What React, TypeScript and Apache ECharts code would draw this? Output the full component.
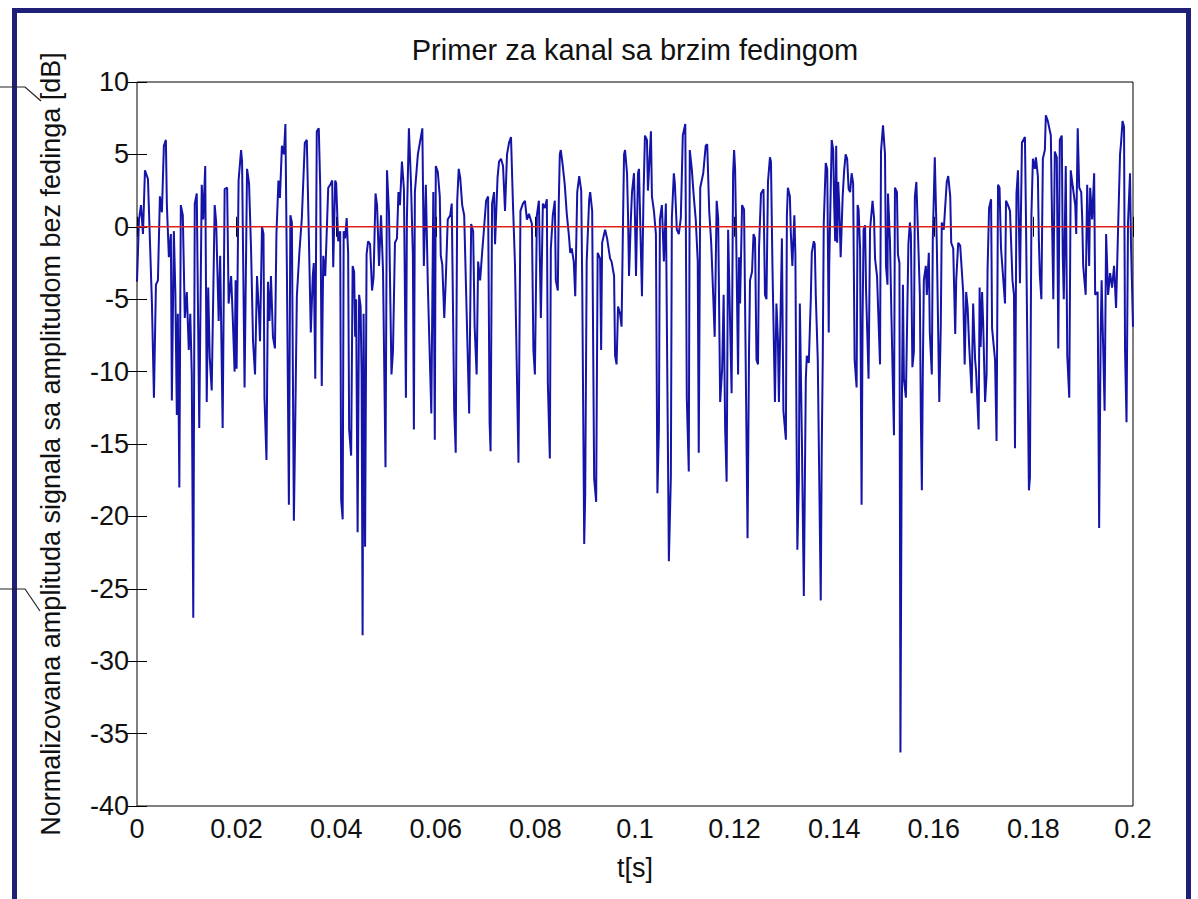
import React, { useEffect, useRef } from "react";
import * as echarts from "echarts";

const TITLE = "Primer za kanal sa brzim fedingom";
const X_NAME = "t[s]";
const Y_NAME = "Normalizovana amplituda signala sa amplitudom bez fedinga [dB]";
const X_MIN = 0;
const X_MAX = 0.2;
const X_STEP = 0.02;
const Y_MIN = -40;
const Y_MAX = 10;
const Y_STEP = 5;
const REF_LEVEL = 0;

// time of each turning point, in milliseconds
const tMs = [
  0.0, 0.4, 0.8, 1.2, 1.6, 2.2, 2.6, 3.0, 3.4, 3.8, 4.2, 4.6, 5.0, 5.4, 5.8, 6.0, 6.4, 6.8, 7.0, 7.4,
  7.7, 8.0, 8.2, 8.5, 8.8, 9.2, 9.6, 10.0, 10.4, 10.7, 11.0, 11.3, 11.6, 12.0, 12.5, 13.0, 13.3, 13.7, 14.0, 14.3,
  14.6, 15.0, 15.6, 15.9, 16.4, 16.7, 17.2, 17.6, 18.1, 18.4, 18.9, 19.2, 19.6, 19.8, 20.0, 20.4, 20.9, 21.1, 21.6, 22.1,
  22.5, 22.9, 23.3, 23.7, 24.1, 24.5, 24.7, 25.1, 25.4, 25.6, 26.0, 26.3, 26.6, 26.9, 27.3, 27.7, 28.0, 28.4, 28.7, 29.1,
  29.5, 29.8, 30.1, 30.5, 30.8, 31.1, 31.5, 31.8, 32.1, 32.6, 33.1, 33.7, 34.1, 34.5, 34.9, 35.3, 35.5, 35.8, 36.1, 36.5,
  36.8, 37.1, 37.4, 37.8, 38.4, 38.8, 39.2, 39.4, 39.8, 40.0, 40.4, 40.8, 41.0, 41.3, 41.5, 41.8, 42.1, 42.4, 42.6, 43.0,
  43.3, 43.6, 43.8, 44.0, 44.3, 44.6, 44.9, 45.1, 45.3, 45.5, 45.8, 46.1, 46.4, 46.8, 47.2, 47.5, 47.9, 48.2, 48.6, 49.0,
  49.4, 49.9, 50.2, 50.6, 51.1, 51.4, 51.8, 52.2, 52.5, 52.8, 53.2, 53.6, 54.0, 54.2, 54.6, 55.0, 55.4, 55.6, 55.8, 56.4,
  57.3, 57.6, 58.0, 58.4, 59.1, 59.5, 59.8, 60.0, 60.4, 60.8, 61.0, 61.3, 61.7, 62.0, 62.4, 62.9, 63.2, 63.7, 64.0, 64.3,
  64.6, 64.9, 65.3, 65.7, 66.2, 66.7, 67.1, 67.5, 67.8, 68.2, 68.5, 68.9, 69.3, 69.6, 70.1, 70.5, 70.8, 71.0, 71.3, 71.7,
  71.9, 72.4, 72.7, 73.1, 73.5, 73.9, 74.3, 74.7, 75.1, 75.5, 75.9, 76.6, 77.0, 77.5, 77.9, 78.3, 78.7, 79.3, 79.6, 79.9,
  80.3, 80.7, 81.1, 81.5, 81.9, 82.3, 82.5, 82.9, 83.1, 83.5, 83.9, 84.1, 84.5, 84.7, 84.9, 85.1, 85.5, 85.9, 86.3, 86.7,
  87.0, 87.3, 87.7, 88.0, 88.4, 88.8, 89.2, 89.4, 89.8, 90.0, 90.3, 90.8, 91.0, 91.4, 91.8, 92.2, 92.5, 93.0, 93.2, 93.4,
  94.0, 94.4, 95.0, 95.3, 95.8, 96.0, 96.3, 96.6, 97.0, 97.3, 97.6, 97.8, 98.0, 98.4, 98.6, 98.8, 99.2, 99.4, 99.8, 100.0,
  100.2, 100.6, 100.8, 101.4, 101.7, 102.0, 102.4, 102.6, 103.2, 103.4, 103.8, 104.2, 104.5, 104.8, 105.0, 105.4, 105.8, 106.2, 106.8, 107.2,
  107.4, 107.8, 108.0, 108.4, 108.8, 109.2, 109.6, 110.1, 110.4, 110.8, 111.0, 111.4, 111.8, 112.2, 112.6, 112.8, 113.1, 113.7, 114.2, 114.5,
  114.9, 115.3, 115.7, 116.0, 116.4, 116.7, 117.1, 117.5, 117.8, 118.1, 118.4, 118.7, 119.4, 119.7, 119.9, 120.1, 120.3, 120.7, 120.9, 121.1,
  121.5, 121.9, 122.1, 122.6, 122.9, 123.1, 123.5, 123.8, 124.1, 124.4, 124.7, 124.9, 125.3, 125.8, 126.1, 126.4, 126.7, 127.1, 127.3, 127.6,
  128.1, 128.4, 128.7, 128.9, 129.3, 129.5, 129.8, 130.3, 130.5, 130.7, 131.1, 131.3, 131.6, 132.0, 132.2, 132.6, 132.9, 133.1, 133.5, 133.9,
  134.3, 134.5, 134.9, 135.3, 135.5, 135.9, 136.1, 136.3, 136.7, 137.3, 137.5, 137.7, 137.9, 138.3, 138.6, 138.9, 139.0, 139.5, 139.8, 140.0,
  140.2, 140.4, 140.6, 140.8, 141.0, 141.3, 141.7, 142.0, 142.3, 142.6, 142.9, 143.2, 143.5, 143.8, 144.1, 144.5, 144.7, 144.9, 145.2, 145.5,
  145.7, 145.9, 146.2, 146.4, 146.9, 147.2, 147.7, 148.0, 148.2, 148.6, 149.2, 149.4, 149.8, 150.2, 150.4, 150.7, 150.8, 151.2, 151.5, 152.0,
  152.2, 152.6, 152.8, 153.1, 153.3, 153.6, 153.8, 154.0, 154.4, 154.9, 155.2, 155.4, 155.7, 156.0, 156.2, 156.5, 156.8, 157.2, 157.4, 157.6,
  157.8, 158.0, 158.4, 158.6, 159.0, 159.2, 159.6, 159.8, 160.2, 160.6, 161.1, 161.4, 161.6, 162.0, 162.6, 162.9, 163.3, 163.5, 163.9, 164.3,
  164.5, 164.9, 165.3, 165.9, 166.2, 166.5, 166.8, 167.1, 167.6, 167.9, 168.3, 168.5, 169.0, 169.2, 169.4, 169.7, 169.9, 170.3, 170.6, 170.8,
  171.1, 171.5, 171.7, 172.3, 172.6, 172.9, 173.2, 173.5, 174.3, 174.5, 174.9, 175.3, 175.8, 176.1, 176.3, 176.6, 176.9, 177.3, 177.7, 178.3,
  178.5, 179.1, 179.3, 179.6, 179.9, 180.3, 180.5, 180.9, 181.1, 181.3, 181.6, 181.9, 182.3, 182.5, 182.9, 183.5, 183.7, 184.0, 184.3, 184.7,
  185.0, 185.3, 185.7, 185.9, 186.1, 186.5, 186.8, 187.2, 187.5, 187.9, 188.4, 188.6, 188.9, 189.2, 189.6, 189.8, 190.0, 190.5, 190.8, 191.2,
  191.4, 191.8, 192.2, 192.4, 192.9, 193.2, 193.5, 193.7, 194.3, 194.6, 195.0, 195.4, 195.8, 196.2, 196.6, 197.0, 197.4, 197.6, 197.9, 198.2,
  198.4, 198.7, 199.0, 199.4, 199.6, 200.0,
];

// normalized amplitude at each turning point, dB
const ampDb = [
  -3.8, 0.5, 1.5, -0.5, 3.9, 3.3, -1.0, -5.3, -11.8, -4.0, -3.7, 2.1, 1.0, 5.6, 6.0, 1.5, -2.1, -0.5, -12.0, -0.3,
  -4.5, -13.0, -6, -18.0, 1.5, 0.8, -6.3, -4.5, -8.5, -6, -10.2, -27.0, 1.6, 2.3, -13.9, 2.9, 0.5, 4.2, -12.1, -4.2,
  -9, -11.3, 1.5, 0.3, -6.5, -2, -13.9, 2.6, 2.7, -5.3, -3.4, -6, -10, -3.7, -9.8, 3.2, 5.3, 4.5, -11.1, 4.0,
  3.0, -1.5, -7.9, -10.2, -3.4, -6, -7.9, 0, -0.5, -11.8, -16.1, -3.8, -6.5, -3.4, -7.6, -8.4, -0.5, 3.2, 2.0, 5.6,
  5.0, 7.1, -3.1, -19.2, 0.8, 0.3, -20.3, -12.9, -4.8, -1.8, 0.6, 5.8, 6.0, -0.5, -7.3, -3.4, -2.5, -10.5, 6.6, 6.8,
  2.7, -11, -2.0, -3.4, 2.7, 2.9, 3.2, -2.8, 3.2, 3.0, -1.0, -0.3, -18.9, -20.2, -0.3, -0.8, 0.6, -1.8, -14.0, -15.8,
  -2.7, -3.1, -7.6, -5, -21.1, -4.7, -5.5, -10.2, -28.2, -6, -22.1, -1.9, -1.0, -1.2, -4.4, -3.5, 2.3, 1.5, -2.7, 0.8,
  -3.0, -16.6, 3.9, 1.0, -10.2, -8.6, -1.1, -0.8, 2.4, 1.5, 4.5, 2.6, -11.8, 0.6, 6.8, 3.2, -2, -14.0, 2.4, 5.0,
  6.8, -2.7, 2.9, -4.0, -12.9, 2.4, -14.7, 4.2, 3.8, 2.1, -2.0, -2.6, -6.3, -3.7, 0.5, 0.8, 1.6, -12.7, -15.6, 1.8,
  4.0, 3.4, 1.5, 0.8, -6.0, -12.9, 0.2, -0.3, -6.9, -10.2, -2.4, -3.7, -1.8, -0.5, 1.8, 2.1, -13.5, -15.5, 1.6, 2.4,
  -1.2, 3.4, 4.5, 4.7, 4.2, 1.1, 5.0, 5.8, 6.2, 1.5, -2.6, -16.3, 1.1, 1.6, 1.8, 0.5, 0.9, 0.2, -8.5, -10.2,
  0.8, 1.8, -6.3, 1.6, 1.3, 1.9, -10.8, -16.0, -1.5, 0.8, 1.8, -3.7, -4.4, 1.8, 5.0, 5.3, 4.2, 2.9, 0.9, -0.5,
  -1.8, -1.5, -2.4, -4.8, 2.4, 3.5, 2.5, -3.7, -21.9, -18.5, -2.4, 1.9, 2.4, 1.1, -17.4, -19.0, -1.8, -2.2, -8.5, -1.1,
  -0.2, -0.8, -2.2, -2.4, -3.4, -8.9, -9.5, -5.5, -6.0, -6.9, 0.5, 5.0, 5.3, 3.7, 0.8, -3.4, 0.8, 2.4, 3.7, 0.5,
  -3.4, 3.7, 4.0, -4.8, 2.0, 6.3, 6.0, 2.5, 6.6, 2.1, 1.1, -0.5, -18.4, -14.0, 0.5, 1.5, -2.4, 1.6, -23.1, -17.3,
  0.6, 3.7, 3.0, -0.2, -0.5, 0.6, 6.3, 7.1, -11.8, -16.9, 5.3, 4.0, 2.1, 0.5, -2.4, -15.6, 2.7, 3.7, 5.6, 5.7,
  1.1, -1.1, -4.7, -7.6, 1.8, 0.6, -12.1, -9.8, -4.7, -13.9, -17.6, -0.2, -11.5, 3.7, 5.3, 4.0, -0.2, -10.2, -2.1, -5.3,
  1.5, 1.2, -5.2, -21.5, -8.5, -3.7, -3.1, -0.5, -0.8, -9.2, -9.5, -1.5, 2.3, 2.6, -4.7, -5.0, 3.1, 4.8, 4.5, -2.7,
  -12.1, -5.3, -7.8, -12.1, -4.7, -0.8, -12.7, -14.7, 0.8, 2.7, 2.1, -0.5, -2.7, 0.8, -1.8, -22.3, -17.6, -5.3, -14.4, -25.5,
  -10.5, -8.9, -9.4, -5.0, -1.8, -1.0, -1.2, -4.7, -9.2, -25.8, -15.3, -9.2, 0.2, 4.4, 4.0, -7.3, -2.7, 6.0, 5.3, 1.5,
  -1.0, 5.6, -1.1, 3.1, 1.6, -2.1, 2.1, 3.9, 5.0, 4.7, 2.6, 2.4, 3.7, 3.0, -9.2, -11.1, 1.5, 1.2, -1.5, -19.2,
  -6.3, -0.2, 0.1, -4.4, -10.5, -0.2, 1.8, 0.6, -2.2, -3.4, -9.5, 5.2, 7.0, 5.0, -2.7, -4.0, 2.3, -1.0, -6.3, -14.4,
  2.7, 2.4, -1.9, -2.5, -36.3, -11.8, -4.0, -10.5, -11.8, -1.2, 0.3, -0.5, -9.7, -8.6, 2.1, 3.1, -0.2, -4.7, -13.1, -18.2,
  -9.8, -3.7, -2.7, -4.7, -1.8, -7.3, -10.2, -0.8, 4.8, -1.1, -12.1, -6.9, 0.3, -0.2, 3.1, 3.5, 2.1, -1.1, -1.5, -7.4,
  -3.7, -1.1, -1.3, -4.5, -9.5, -4.5, -5.6, -8.2, -11.5, -5.3, -9.2, -10, -14.0, -4.2, -8.3, -4.5, -6.5, -12.1, -10.2, -2.9,
  1.3, 1.9, -7, -9.2, -14.8, 2.9, 2.7, -1.5, -5.3, 1.8, 1.5, 1.1, -3.7, -4.7, -15.3, 2.3, 3.9, -3.9, 5.8, 6.2,
  0.8, -18.2, -17.3, 0.8, 4.7, 4.0, 4.8, 3.5, -1.0, -3.4, -5.0, 4.7, 5.3, 7.7, 7.3, 6.3, 1.5, -5.0, 5.2, 4.8,
  -8.4, 6.0, 6.3, -2, -5.0, 4.2, -8.9, -11.8, 3.9, 2.8, 1.5, -0.5, 6.8, 2.7, 2.4, 0.6, -2.7, -4.7, 2.9, -2.7,
  2.7, 0.5, 3.7, -4.7, -4.5, -20.8, -7.6, -3.7, -12.7, -0.5, -4.7, -3.2, -4.2, -2.7, -5.6, -0.2, 5.0, 5.8, 7.3, 6.9,
  -8.5, -13.5, 0.3, 3.7, -1.2, -6.9,
];

const FONT = "'Liberation Sans', Arial, Helvetica, sans-serif";

export default function App() {
  const ref = useRef<HTMLDivElement>(null);

  useEffect(() => {
    if (!ref.current) return;
    const chart = echarts.init(ref.current, null, { renderer: "svg" });
    const n = Math.min(tMs.length, ampDb.length);
    const signal: number[][] = [];
    for (let i = 0; i < n; i++) signal.push([tMs[i] / 1000, ampDb[i]]);

    const tickFmt = (v: number) => String(parseFloat(v.toFixed(4)));

    const baseX = {
      type: "value",
      min: X_MIN,
      max: X_MAX,
      interval: X_STEP,
      axisLine: { show: false },
      splitLine: { show: false },
      axisTick: { show: true, inside: true, length: 10, lineStyle: { color: "#000", width: 1 } },
    };
    const baseY = {
      type: "value",
      min: Y_MIN,
      max: Y_MAX,
      interval: Y_STEP,
      axisLine: { show: false },
      splitLine: { show: false },
      axisTick: { show: true, inside: true, length: 10, lineStyle: { color: "#000", width: 1 } },
    };

    chart.setOption({
      animation: false,
      backgroundColor: "#ffffff",
      title: {
        text: TITLE,
        left: 630,
        top: 30,
        textAlign: "center",
        textStyle: { fontFamily: FONT, fontSize: 29, fontWeight: "normal", color: "#111" },
      },
      grid: {
        left: 137,
        top: 82,
        right: 65,
        bottom: 93,
        show: true,
        borderColor: "#000",
        borderWidth: 1,
        backgroundColor: "transparent",
      },
      xAxis: [
        {
          ...baseX,
          position: "bottom",
          axisLabel: { show: true, margin: 9, fontFamily: FONT, fontSize: 27, color: "#111", formatter: tickFmt },
          name: X_NAME,
          nameLocation: "middle",
          nameGap: 48,
          nameTextStyle: { fontFamily: FONT, fontSize: 27, color: "#111" },
        },
        { ...baseX, position: "top", axisLabel: { show: false } },
      ],
      yAxis: [
        {
          ...baseY,
          position: "left",
          axisLabel: { show: true, margin: 8, fontFamily: FONT, fontSize: 27, color: "#111", formatter: tickFmt },
          name: Y_NAME,
          nameLocation: "middle",
          nameRotate: 90,
          nameGap: 73,
          nameTextStyle: { fontFamily: FONT, fontSize: 27, color: "#111" },
        },
        { ...baseY, position: "right", axisLabel: { show: false } },
      ],
      series: [
        {
          type: "line",
          xAxisIndex: 0,
          yAxisIndex: 0,
          data: signal,
          showSymbol: false,
          symbol: "none",
          lineStyle: { color: "#1414a8", width: 2 },
          z: 2,
        },
        {
          type: "line",
          xAxisIndex: 0,
          yAxisIndex: 0,
          data: [
            [X_MIN, REF_LEVEL],
            [X_MAX, REF_LEVEL],
          ],
          showSymbol: false,
          symbol: "none",
          lineStyle: { color: "#e02020", width: 1.5 },
          z: 3,
        },
      ],
      graphic: [
        { type: "rect", shape: { x: 12, y: 8, width: 5, height: 900 }, style: { fill: "#1f1f78" }, z: 10 },
        { type: "rect", shape: { x: 12, y: 8, width: 1179, height: 5 }, style: { fill: "#1f1f78" }, z: 10 },
        { type: "rect", shape: { x: 1186, y: 8, width: 5, height: 900 }, style: { fill: "#1f1f78" }, z: 10 },
        {
          type: "polyline",
          shape: { points: [[0, 87], [25, 87], [41, 101]] },
          style: { stroke: "#222", lineWidth: 1.2, fill: "none" },
          z: 11,
        },
        {
          type: "polyline",
          shape: { points: [[0, 589], [25, 589], [40, 611]] },
          style: { stroke: "#222", lineWidth: 1.2, fill: "none" },
          z: 11,
        },
      ],
    });

    return () => chart.dispose();
  }, []);

  return (
    <div
      ref={ref}
      style={{ position: "fixed", left: 0, top: 0, width: 1198, height: 899, background: "#fff" }}
    />
  );
}
